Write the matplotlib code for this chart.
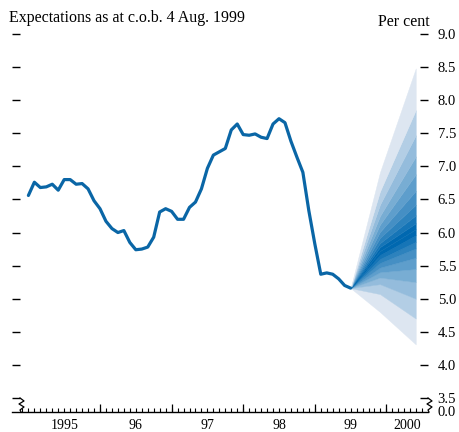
import numpy as np
import matplotlib
matplotlib.use("Agg")
import matplotlib.pyplot as plt
from matplotlib.lines import Line2D
from matplotlib.colors import to_rgb

# ---------------- data ----------------
# monthly observations, Jan 1995 .. Jul 1999 (per cent)
start_year = 1995.0
rate_values = [
    6.56, 6.76, 6.68, 6.69, 6.73, 6.64, 6.80, 6.80, 6.73, 6.74, 6.66, 6.48,
    6.36, 6.17, 6.06, 6.00, 6.03, 5.85, 5.74, 5.75, 5.78, 5.93, 6.31, 6.36,
    6.32, 6.20, 6.20, 6.38, 6.46, 6.66, 6.97, 7.17, 7.22, 7.27, 7.55, 7.64,
    7.48, 7.47, 7.49, 7.44, 7.42, 7.64, 7.72, 7.66, 7.38, 7.14, 6.91, 6.33,
    5.83, 5.37, 5.39, 5.37, 5.30, 5.20, 5.16,
]

# fan chart: time nodes and percentiles (5,10,...,95) at each node
fan_times = [1999.5, 1999.91, 2000.41]
fan_percentiles = list(range(5, 100, 5))
fan_q_node1 = [5.16] * 19
fan_q_node2 = [4.80, 5.07, 5.22, 5.32, 5.40, 5.47, 5.54, 5.60, 5.66, 5.72,
               5.78, 5.84, 5.92, 6.01, 6.12, 6.25, 6.42, 6.62, 6.91]
fan_q_node3 = [4.31, 4.70, 5.00, 5.25, 5.45, 5.62, 5.76, 5.86, 5.96, 6.05,
               6.14, 6.26, 6.42, 6.63, 6.88, 7.15, 7.47, 7.85, 8.48]

year_labels = ["1995", "96", "97", "98", "99", "2000"]
year_label_pos = [1995.5, 1996.5, 1997.5, 1998.5, 1999.5, 2000.29]
ytick_values = [3.5, 4.0, 4.5, 5.0, 5.5, 6.0, 6.5, 7.0, 7.5, 8.0, 8.5, 9.0]
ytick_labels = ["3.5", "4.0", "4.5", "5.0", "5.5", "6.0", "6.5", "7.0",
                "7.5", "8.0", "8.5", "9.0"]
title_text = "Expectations as at c.o.b. 4 Aug. 1999"
unit_text = "Per cent"

# ---------------- style ----------------
W, H = 459, 432
plt.rcParams['font.family'] = ['Liberation Serif', 'DejaVu Serif']
LINE_COLOR = '#0A66A6'
FONT = 10.5

fig = plt.figure(figsize=(W / 100, H / 100), dpi=100)
AX_L, AX_R, AX_T, AX_B = 12, 428, 34, 412
ax = fig.add_axes([AX_L / W, 1 - AX_B / H, (AX_R - AX_L) / W, (AX_B - AX_T) / H])
ax.set_xlim(1994.771, 2000.581)
ax.set_ylim(3.288, 9.0)

# fan
light = np.array(to_rgb('#DDE6F1'))
dark = np.array(to_rgb('#0068B0'))
nshades = 9
shades = [tuple(light + (dark - light) * (i / (nshades - 1)) ** 0.8) for i in range(nshades)]
Q = np.array([fan_q_node1, fan_q_node2, fan_q_node3])
nb = Q.shape[1] - 1
for k in range(nb):
    s = min(k, nb - 1 - k)
    ax.fill_between(fan_times, Q[:, k], Q[:, k + 1], color=shades[s],
                    linewidth=0.3, edgecolor=shades[s], zorder=2)

# line
t = start_year + np.arange(len(rate_values)) / 12.0
ax.plot(t, rate_values, color=LINE_COLOR, lw=2.3, solid_joinstyle='round',
        solid_capstyle='round', zorder=3)

# axes styling
for side in ['top', 'left', 'right']:
    ax.spines[side].set_visible(False)
ax.spines['bottom'].set_linewidth(1.0)
ax.set_yticks(ytick_values)
ax.set_yticklabels(ytick_labels)
ax.tick_params(axis='y', left=True, right=True, labelleft=False, labelright=True,
               direction='in', length=5.8, width=1.0, pad=7, labelsize=FONT)
ax.set_xticks([1996, 1997, 1998, 1999, 2000])
ax.set_xticks(1994.917 + np.arange(0, 68) / 12.0, minor=True)
ax.tick_params(axis='x', which='major', direction='in', length=5.8, width=0.9,
               labelbottom=False)
ax.tick_params(axis='x', which='minor', direction='in', length=3.0, width=0.8)

xtr = ax.get_xaxis_transform()
for lab, pos in zip(year_labels, year_label_pos):
    ax.text(pos, -0.018, lab, transform=xtr, ha='center', va='top', fontsize=10)

ax.annotate("0.0", xy=(1.0, 3.288), xycoords=('axes fraction', 'data'),
            xytext=(7, 0), textcoords='offset points', ha='left', va='center',
            fontsize=FONT)

# axis break symbols (in pixel coordinates)
def px(x, y):
    return x / W, 1 - y / H

y35 = AX_B - (3.5 - 3.288) * (AX_B - AX_T) / (9.0 - 3.288)
zl = [(AX_L + 8, y35), (AX_L + 12, y35 + 3), (AX_L + 7, y35 + 6),
      (AX_L + 12, y35 + 9), (AX_L + 8, y35 + 12), (AX_L + 9, AX_B)]
zr = [(AX_R, y35), (AX_R + 4, y35 + 3), (AX_R - 1, y35 + 6),
      (AX_R + 4, y35 + 9), (AX_R, y35 + 12), (AX_R + 1, AX_B)]
for z in (zl, zr):
    xs, ys = zip(*[px(a, b) for a, b in z])
    fig.add_artist(Line2D(xs, ys, transform=fig.transFigure, color='black', lw=0.9))

fig.text(9 / W, 1 - 18.5 / H, title_text, ha='left', va='center', fontsize=11.5)
fig.text(378 / W, 1 - 22.5 / H, unit_text, ha='left', va='center', fontsize=11.5)

fig.savefig('out.png', dpi=100)
